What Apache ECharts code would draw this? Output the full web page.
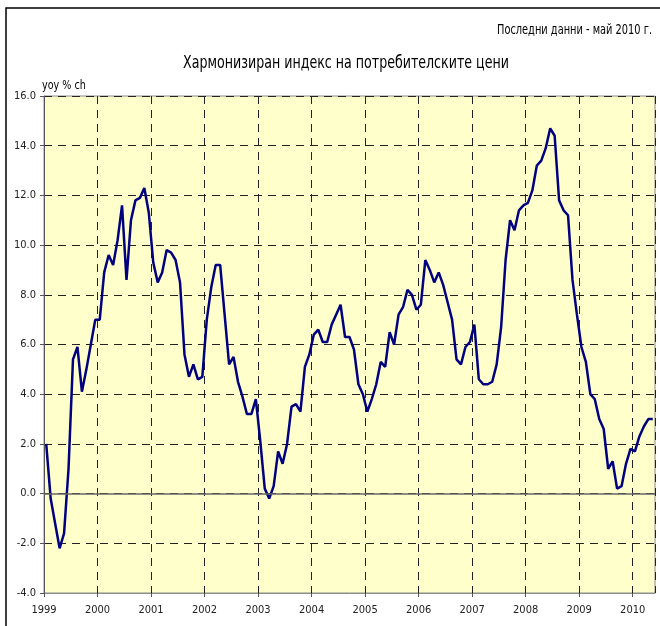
<!DOCTYPE html>
<html>
<head>
<meta charset="utf-8">
<script src="https://cdn.jsdelivr.net/npm/echarts@6/dist/echarts.min.js"></script>
<style>
  html, body { margin: 0; padding: 0; background: #fff; }
  #chart { width: 660px; height: 626px; }
</style>
</head>
<body>
<div id="chart"></div>
<script>
// ХИПЦ, годишно изменение в %, месечни данни 01.1999 - 05.2010
const yearLabels = ['1999', '2000', '2001', '2002', '2003', '2004', '2005', '2006', '2007', '2008', '2009', '2010']
const hicp1999 = [2.0, -0.2, -1.2, -2.2, -1.6, 1.0, 5.4, 5.9, 4.1, 5.0, 6.0, 7.0]
const hicp2000 = [7.0, 8.9, 9.6, 9.2, 10.2, 11.6, 8.6, 11.0, 11.8, 11.9, 12.3, 11.3]
const hicp2001 = [9.3, 8.5, 8.9, 9.8, 9.7, 9.4, 8.5, 5.6, 4.7, 5.2, 4.6, 4.7]
const hicp2002 = [7.0, 8.3, 9.2, 9.2, 7.2, 5.2, 5.5, 4.5, 3.9, 3.2, 3.2, 3.8]
const hicp2003 = [2.1, 0.2, -0.2, 0.3, 1.7, 1.2, 2.0, 3.5, 3.6, 3.3, 5.1, 5.6]
const hicp2004 = [6.4, 6.6, 6.1, 6.1, 6.8, 7.2, 7.6, 6.3, 6.3, 5.8, 4.4, 4.0]
const hicp2005 = [3.3, 3.8, 4.4, 5.3, 5.1, 6.5, 6.0, 7.2, 7.5, 8.2, 8.0, 7.4]
const hicp2006 = [7.6, 9.4, 9.0, 8.5, 8.9, 8.4, 7.7, 7.0, 5.4, 5.2, 5.9, 6.1]
const hicp2007 = [6.8, 4.6, 4.4, 4.4, 4.5, 5.2, 6.7, 9.4, 11.0, 10.6, 11.4, 11.6]
const hicp2008 = [11.7, 12.2, 13.2, 13.4, 13.9, 14.7, 14.4, 11.8, 11.4, 11.2, 8.6, 7.2]
const hicp2009 = [5.9, 5.3, 4.0, 3.8, 3.0, 2.6, 1.0, 1.3, 0.2, 0.3, 1.2, 1.8]
const hicp2010 = [1.7, 2.3, 2.7, 3.0, 3.0]

const values = [].concat(hicp1999, hicp2000, hicp2001, hicp2002, hicp2003, hicp2004,
  hicp2005, hicp2006, hicp2007, hicp2008, hicp2009, hicp2010)

const font = "'Liberation Sans Narrow', 'DejaVu Sans Condensed', sans-serif"

const chart = echarts.init(document.getElementById('chart'))
const option = {
  animation: false,
  textStyle: { fontFamily: font },
  graphic: [
    {
      type: 'rect',
      shape: { x: 6, y: 8, width: 700, height: 700 },
      style: { fill: 'none', stroke: '#000', lineWidth: 1.5 }
    },
    {
      // текстовете в оригинала са с тесен шрифт, затова се свиват по хоризонтала
      type: 'text',
      x: 652,
      y: 30,
      scaleX: 0.78,
      style: {
        text: 'Последни данни - май 2010 г.',
        x: 0,
        y: 0,
        align: 'right',
        verticalAlign: 'middle',
        font: '14px ' + font,
        fill: '#000'
      }
    },
    {
      type: 'text',
      x: 346,
      y: 63,
      scaleX: 0.78,
      style: {
        text: 'Хармонизиран индекс на потребителските цени',
        x: 0,
        y: 0,
        align: 'center',
        verticalAlign: 'middle',
        font: '18px ' + font,
        fill: '#000'
      }
    },
    {
      type: 'text',
      x: 42,
      y: 86,
      scaleX: 0.82,
      style: {
        text: 'yoy % ch',
        x: 0,
        y: 0,
        align: 'left',
        verticalAlign: 'middle',
        font: '13px ' + font,
        fill: '#000'
      }
    }
  ],
  grid: {
    left: 44,
    right: 5,
    top: 96,
    bottom: 33,
    show: true,
    backgroundColor: '#FFFFCC',
    borderColor: '#8c8c8c',
    borderWidth: 1
  },
  xAxis: {
    type: 'value',
    min: 0,
    max: values.length,
    interval: 12,
    axisLine: { onZero: false, lineStyle: { color: '#8c8c8c' } },
    axisTick: { show: true, length: 4, lineStyle: { color: '#555' } },
    axisLabel: {
      margin: 12,
      fontSize: 11,
      color: '#222',
      fontFamily: font,
      showMaxLabel: false,
      formatter: function (v) {
        return v % 12 === 0 ? yearLabels[v / 12] : ''
      }
    },
    splitLine: {
      show: true,
      lineStyle: { color: '#222', type: [8, 6], width: 1 }
    }
  },
  yAxis: {
    type: 'value',
    min: -4,
    max: 16,
    interval: 2,
    axisLine: { show: true, lineStyle: { color: '#555' } },
    axisTick: { show: true, length: 4, lineStyle: { color: '#555' } },
    axisLabel: {
      margin: 8,
      fontSize: 11,
      color: '#222',
      fontFamily: font,
      formatter: function (v) { return v.toFixed(1) }
    },
    splitLine: {
      show: true,
      lineStyle: { color: '#222', type: [8, 6], width: 1 }
    }
  },
  series: [
    {
      type: 'line',
      data: values.map((v, i) => [i + 0.5, v]),
      showSymbol: false,
      lineStyle: { color: '#000080', width: 2.5 },
      markLine: {
        silent: true,
        symbol: 'none',
        label: { show: false },
        lineStyle: { color: '#666', type: 'solid', width: 1.5 },
        data: [{ yAxis: 0 }]
      }
    }
  ]
}
chart.setOption(option)
</script>
</body>
</html>
